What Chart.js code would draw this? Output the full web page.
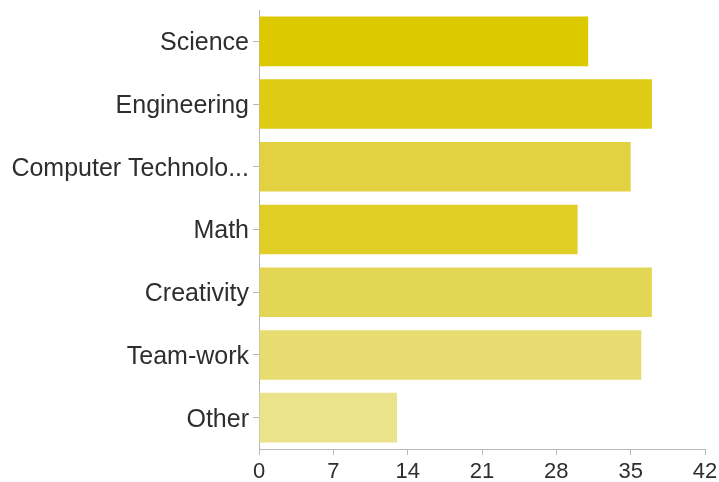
<!DOCTYPE html>
<html>
<head>
<meta charset="utf-8">
<script src="https://cdn.jsdelivr.net/npm/chart.js@4/dist/chart.umd.min.js"></script>
<style>
  html, body { margin: 0; padding: 0; background: #ffffff; }
  #wrap { width: 719px; height: 482px; position: relative; }
</style>
</head>
<body>
<div id="wrap"><canvas id="c" width="719" height="482"></canvas></div>
<script>
// Survey answers: which areas were covered
const categories = ['Science', 'Engineering', 'Computer Technolo...', 'Math', 'Creativity', 'Team-work', 'Other'];
const responses = [31, 37, 35, 30, 37, 36, 13];
const barColors = ['#dcc900', '#decb14', '#e2d140', '#e0cd25', '#e4d655', '#e6dc70', '#ebe38c'];
const xTickStep = 7;
const xMax = 42;

new Chart(document.getElementById('c'), {
  type: 'bar',
  data: {
    labels: categories,
    datasets: [{
      data: responses,
      backgroundColor: barColors,
      borderWidth: 0,
      barPercentage: 0.79,
      categoryPercentage: 1.0
    }]
  },
  options: {
    indexAxis: 'y',
    responsive: false,
    animation: false,
    layout: { padding: { top: 10, right: 14, left: 0, bottom: 0 } },
    plugins: { legend: { display: false }, tooltip: { enabled: false } },
    scales: {
      x: {
        min: 0,
        max: xMax,
        ticks: {
          stepSize: xTickStep,
          color: '#2e2e2e',
          font: { family: 'Liberation Sans, Arial, sans-serif', size: 22 },
          padding: 4,
          maxRotation: 0
        },
        grid: { drawOnChartArea: false, drawTicks: true, tickLength: 6, color: '#b8b8b8' },
        border: { display: true, color: '#b8b8b8', width: 1 },
        afterFit: s => { s.height = 33; s.paddingLeft = 0; s.paddingRight = 0; }
      },
      y: {
        ticks: {
          color: '#2e2e2e',
          font: { family: 'Liberation Sans, Arial, sans-serif', size: 25 },
          padding: 4,
          labelOffset: 2
        },
        grid: { drawOnChartArea: false, drawTicks: true, tickLength: 6, color: '#b8b8b8', offset: false },
        border: { display: true, color: '#b8b8b8', width: 1 },
        afterFit: s => { s.width = 259; s.paddingTop = 0; s.paddingBottom = 0; }
      }
    }
  }
});
</script>
</body>
</html>
